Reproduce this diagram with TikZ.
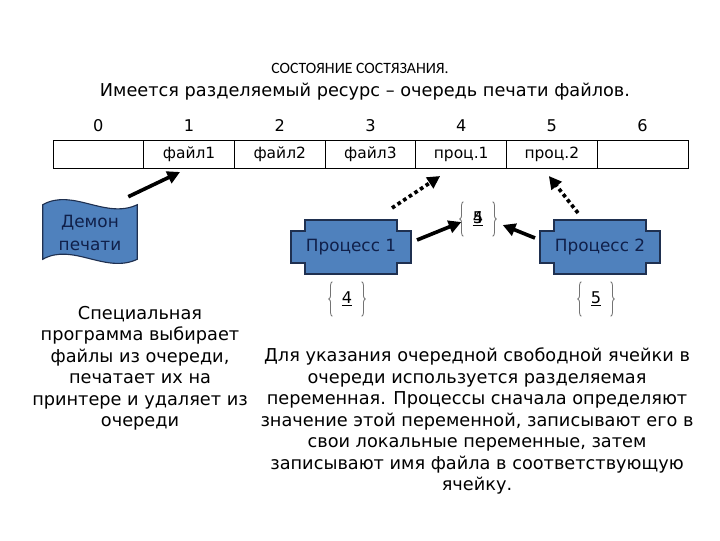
\documentclass[tikz,border=0pt]{standalone}
\usepackage{fontspec}
\setmainfont{DejaVu Sans}
\newfontfamily\capfont{Carlito}
\usetikzlibrary{arrows.meta, positioning, calc, decorations.pathreplacing}

\definecolor{procblue}{HTML}{4F81BD}
\definecolor{procline}{HTML}{1F3050}
\definecolor{proctext}{HTML}{10204A}

\begin{document}
\begin{tikzpicture}[
    x=0.025cm, y=-0.025cm, >=Stealth,
    cell/.style={draw, line width=0.6pt, minimum width=2.2675cm,
                 minimum height=0.7cm, inner sep=0pt, outer sep=0pt,
                 text height=1.6ex, text depth=0.5ex,
                 font=\fontsize{11}{12}\selectfont},
    idx/.style={font=\fontsize{11.5}{12}\selectfont,
                text height=1.6ex, text depth=0.3ex},
    procfill/.style={fill=procblue, draw=procline, line width=0.8pt},
    proclabel/.style={text=proctext, font=\fontsize{12}{16}\selectfont},
    fat/.style={line width=2.6pt, -{Triangle[length=9pt, width=9pt]}},
    dots/.style={line width=2.6pt, dash pattern=on 2.6pt off 2.2pt,
                 -{Triangle[length=9pt, width=9pt]}},
    val/.style={minimum width=0.72cm, minimum height=0.85cm, inner sep=0pt,
                font=\fontsize{11.5}{12}\selectfont},
    curl/.style={decorate, decoration={brace, amplitude=2.5pt},
                 draw=black!55, line width=0.6pt},
    note/.style={align=center, anchor=north,
                 font=\fontsize{12.6}{15.3}\selectfont}
  ]
  \useasboundingbox (0,0) rectangle (720,540);

  % headings
  \node[font=\capfont\fontsize{11.2}{12}\selectfont] (ttl) at (360,68)
    {СОСТОЯНИЕ СОСТЯЗАНИЯ.};
  \node[font=\fontsize{12.6}{14}\selectfont] (sub) at (365,92)
    {Имеется разделяемый ресурс – очередь печати файлов.};

  % queue cells with their numbers
  \foreach \i/\t in {0/, 1/файл1, 2/файл2, 3/файл3, 4/проц.1, 5/проц.2, 6/}
  {
    \node[cell] (c\i) at (98.35+90.7*\i,154) {\t};
    \node[idx] (n\i) at (98.35+90.7*\i,126) {\i};
  }

  % print daemon (punched tape)
  \node[minimum width=2.35cm, minimum height=1.35cm] (demon) at (90,232) {};
  \draw[procfill] (demon.north west)
      .. controls ($(demon.north west)+(30,-17)$)
              and ($(demon.north east)+(-32,15)$) .. (demon.north east)
      -- (demon.south east)
      .. controls ($(demon.south east)+(-32,15)$)
              and ($(demon.south west)+(30,-17)$) .. (demon.south west)
      -- cycle;
  \node[proclabel, align=center] at ($(demon)+(0,1)$) {Демон\\печати};

  % processes
  \coordinate (p1c) at (351,247);
  \coordinate (p2c) at (600,247);
  \foreach \p in {p1c,p2c}
    \draw[procfill] ($(\p)+(-46,-27)$) -- ($(\p)+(46,-27)$)
      -- ($(\p)+(46,-16)$) -- ($(\p)+(60,-16)$) -- ($(\p)+(60,16)$)
      -- ($(\p)+(46,16)$) -- ($(\p)+(46,27)$) -- ($(\p)+(-46,27)$)
      -- ($(\p)+(-46,16)$) -- ($(\p)+(-60,16)$) -- ($(\p)+(-60,-16)$)
      -- ($(\p)+(-46,-16)$) -- cycle;
  \node[proclabel] (p1) at (p1c) {Процесс 1};
  \node[proclabel] (p2) at (p2c) {Процесс 2};

  % shared variable and local copies
  \node[val] (shv) at (478,219) {\underline{4}};
  \node[val] (shv5) at (478,219) {\underline{5}};
  \node[val] (loc1) at (347,299) {\underline{4}};
  \node[val] (loc2) at (596,299) {\underline{5}};
  \foreach \v in {shv,loc1,loc2}
  {
    \draw[curl] (\v.south west) -- (\v.north west);
    \draw[curl] (\v.north east) -- (\v.south east);
  }

  % arrows
  \draw[fat] ($(demon.north east)+(-9,-8)$) -- ($(c1.south)+(-9,4)$);
  \draw[fat] ($(p1c)+(66,-7)$) -- ($(shv.west)+(-2,3)$);
  \draw[fat] ($(p2c)+(-65,-9)$) -- ($(shv.east)+(10,6)$);
  \draw[dots] ($(p1c)+(41,-39)$) -- ($(c4.south)+(-21,8)$);
  \draw[dots] ($(p2c)+(-22,-34)$) -- ($(c5.south)+(-3,8)$);

  % explanations
  \node[note] (left) at (140,301)
    {Специальная\\программа выбирает\\файлы из очереди,\\печатает их на\\принтере и удаляет из\\очереди};
  \node[note] (right) at (477,343)
    {Для указания очередной свободной ячейки в\\очереди используется разделяемая\\переменная. Процессы сначала определяют\\значение этой переменной, записывают его в\\свои локальные переменные, затем\\записывают имя файла в соответствующую\\ячейку.};
\end{tikzpicture}
\end{document}
